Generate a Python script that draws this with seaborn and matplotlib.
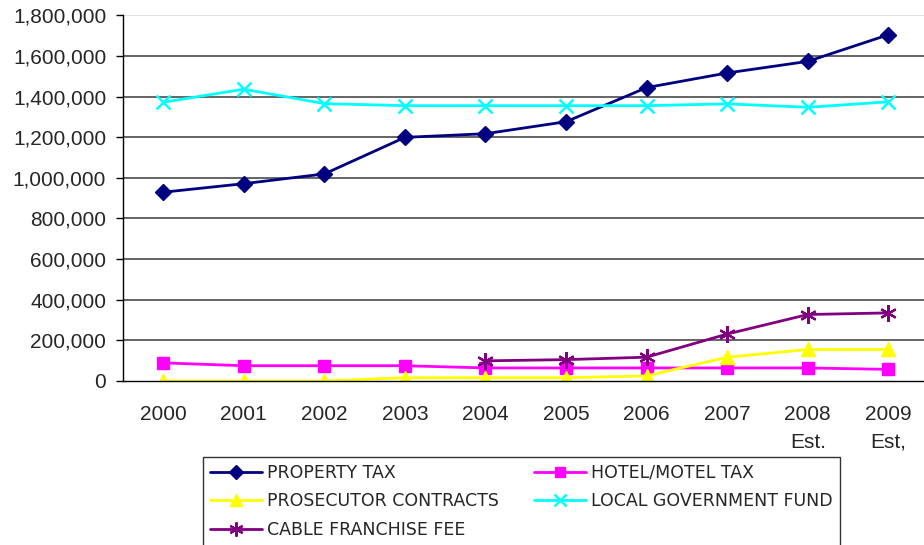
import matplotlib
matplotlib.use("Agg")
import matplotlib.pyplot as plt
import seaborn as sns
import numpy as np
import pandas as pd
from matplotlib.ticker import FuncFormatter

years = ["2000", "2001", "2002", "2003", "2004", "2005", "2006", "2007", "2008\nEst.", "2009\nEst,"]
property_tax = [929000, 971000, 1019000, 1199000, 1217000, 1276000, 1444000, 1516000, 1573000, 1704000]
hotel_motel_tax = [89000, 75000, 75000, 75000, 64000, 64000, 64000, 64000, 64000, 57000]
prosecutor_contracts = [0, 0, 0, 16000, 16000, 16000, 25000, 117000, 155000, 155000]
local_gov_fund = [1372000, 1436000, 1365000, 1355000, 1355000, 1355000, 1355000, 1364000, 1347000, 1374000]
cable_franchise_fee = [np.nan, np.nan, np.nan, np.nan, 99000, 105000, 117000, 231000, 327000, 335000]

series = [
    ("PROPERTY TAX", property_tax, "#000080", "D", 8.5, 1.0),
    ("HOTEL/MOTEL TAX", hotel_motel_tax, "#FF00FF", "s", 8.5, 1.0),
    ("PROSECUTOR CONTRACTS", prosecutor_contracts, "#FFFF00", "^", 10, 1.0),
    ("LOCAL GOVERNMENT FUND", local_gov_fund, "#00FFFF", "x", 10, 1.8),
    ("CABLE FRANCHISE FEE", cable_franchise_fee, "#800080", (6, 2, 0), 12, 1.6),
]

sns.set_style("white")
plt.rcParams["font.family"] = ["Liberation Sans", "DejaVu Sans"]

fig = plt.figure(figsize=(9.24, 5.45), dpi=100)
ax = fig.add_axes([0.133, 0.301, 0.872, 0.671])

x = np.arange(len(years))
handles = {}
for name, vals, color, marker, ms, mew in series:
    df = pd.DataFrame({"x": x, "y": vals}).dropna()
    sns.lineplot(data=df, x="x", y="y", ax=ax, color=color, marker=marker,
                 markersize=ms, markeredgecolor=color, markeredgewidth=mew,
                 linewidth=2, label=name, legend=False)
    handles[name] = ax.lines[-1]

ax.set_xlim(-0.5, 9.5)
ax.set_ylim(0, 1800000)
ax.set_yticks(np.arange(0, 1800001, 200000))
ax.yaxis.set_major_formatter(FuncFormatter(lambda v, p: f"{int(v):,}"))
ax.set_xticks(x)
ax.set_xticklabels(years, fontsize=15, linespacing=1.6, va="top")
ax.set_xticks(np.arange(-0.5, 10, 1), minor=True)
ax.tick_params(axis="x", which="major", length=0, pad=17)
ax.tick_params(axis="x", which="minor", length=7, width=1, color="black", direction="out")
ax.tick_params(axis="y", labelsize=15, length=5, width=1, color="black", direction="out", left=True, pad=7)
for lab in ax.get_xticklabels():
    lab.set_horizontalalignment("center")
ax.set_xlabel("")
ax.set_ylabel("")

ax.yaxis.grid(True, color="#3a3a3a", linewidth=1.1)
ax.set_axisbelow(True)
gl = ax.yaxis.get_gridlines()
gl[-1].set_color("#d8d8d8")
gl[0].set_visible(False)

for s in ["top", "right"]:
    ax.spines[s].set_visible(False)
ax.spines["left"].set_color("black")
ax.spines["bottom"].set_color("black")
ax.spines["left"].set_linewidth(1)
ax.spines["bottom"].set_linewidth(1)

order = ["PROPERTY TAX", "PROSECUTOR CONTRACTS", "CABLE FRANCHISE FEE", "HOTEL/MOTEL TAX", "LOCAL GOVERNMENT FUND"]
leg = fig.legend([handles[n] for n in order], order, loc="upper left",
                 bbox_to_anchor=(0.2197, 0.1615), ncol=2, frameon=True,
                 fancybox=False, edgecolor="black",
                 prop={"family": ["DejaVu Sans"], "size": 12.5},
                 handlelength=3.0, borderaxespad=0, borderpad=0.4,
                 labelspacing=0.6, columnspacing=2.0, handletextpad=0.3,
                 markerscale=0.85)
leg.get_frame().set_linewidth(1)

fig.savefig("out.png", dpi=100)
